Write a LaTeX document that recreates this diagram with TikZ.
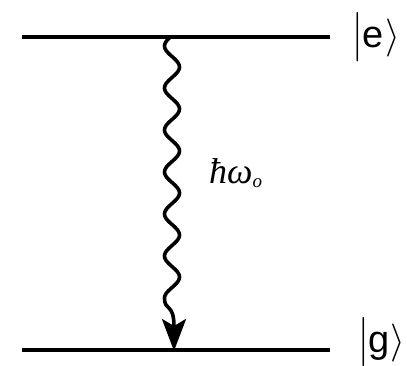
\documentclass[tikz,border=0pt]{standalone}
\usepackage{fix-cm}
\usepackage{fontspec}
\setmainfont{Liberation Sans}
\newfontfamily\labfont{Liberation Serif}
\usepackage{graphicx}
\usetikzlibrary{arrows.meta}
\begin{document}
\begin{tikzpicture}[x=1pt,y=-1pt,
  level/.style={line width=4pt},
  photon/.style={line width=3.6pt,line join=round},
  ket/.style={font=\fontsize{38}{38}\selectfont,inner sep=0pt,anchor=base west}]
\useasboundingbox (0,0) rectangle (407,365);
\coordinate (e1) at (22,37);
\coordinate (e2) at (330,37);
\coordinate (g1) at (22,350);
\coordinate (g2) at (330,350);
\draw[level] (e1) -- (e2);
\draw[level] (g1) -- (g2);
\node[ket] (ke) at (352,47) {\raisebox{-0.07em}{\scalebox{1}[1.3]{$|$}}e\kern2pt$\rangle$};
\node[ket] (kg) at (358,352) {\raisebox{-0.07em}{\scalebox{1}[1.3]{$|$}}g\kern1pt$\rangle$};
\coordinate (wend) at (164.5,298);
\coordinate (tip) at (174,351);
\draw[photon,-{Stealth[length=32pt,width=24pt,inset=7pt]}]
  plot[domain=37:298,samples=180,variable=\t] ({172+7.5*sin((\t-67)*8.5714+90)},\t)
  .. controls (164.5,312) and (174,302) .. (tip);
\node[inner sep=0pt,anchor=base west,font=\fontsize{36}{36}\selectfont] (lab) at (209,183) {{\labfont\itshape ħω}\raisebox{-0.12em}{\fontsize{19}{19}\selectfont\labfont\itshape o}};
\end{tikzpicture}
\end{document}
